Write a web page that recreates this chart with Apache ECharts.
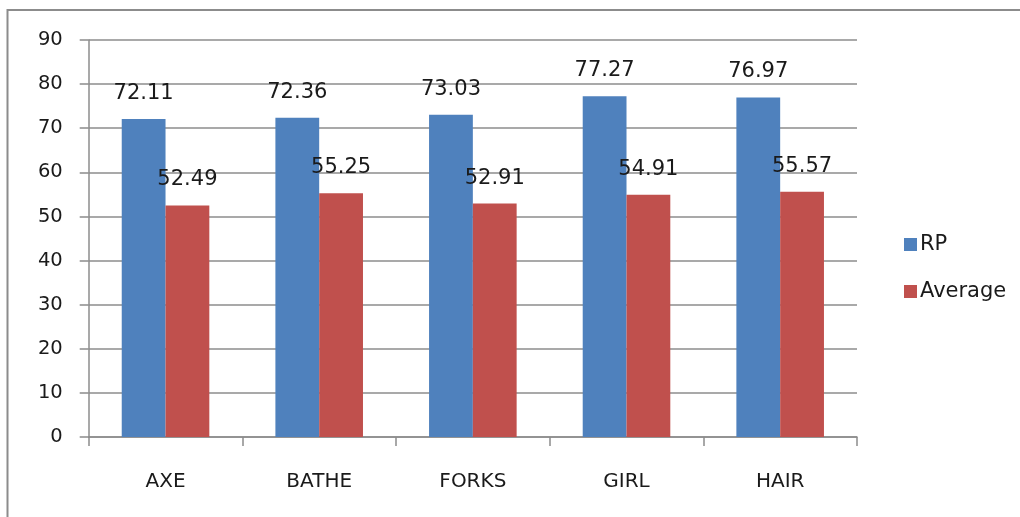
<!DOCTYPE html>
<html>
<head>
<meta charset="utf-8">
<script src="https://cdn.jsdelivr.net/npm/echarts@6/dist/echarts.min.js"></script>
<style>
html,body{margin:0;padding:0;background:#fff;overflow:hidden;}
#chart{width:1020px;height:517px;}
</style>
</head>
<body>
<div id="chart"></div>
<script>
var categories = ['AXE', 'BATHE', 'FORKS', 'GIRL', 'HAIR'];
var rpValues = [72.11, 72.36, 73.03, 77.27, 76.97];
var averageValues = [52.49, 55.25, 52.91, 54.91, 55.57];
var seriesNames = ['RP', 'Average'];
var yMin = 0, yMax = 90, yStep = 10;

var FONT = 'DejaVu Sans';
var chart = echarts.init(document.getElementById('chart'));
chart.setOption({
  animation: false,
  backgroundColor: '#ffffff',
  textStyle: { fontFamily: FONT },
  graphic: [
    { type: 'polyline', shape: { points: [[7.5, 530], [7.5, 10], [1030, 10]] }, style: { stroke: '#8c8c8c', lineWidth: 2, fill: null } }
  ],
  grid: { left: 88.7, right: 163, top: 40, bottom: 80, containLabel: false },
  legend: {
    orient: 'vertical',
    left: 899,
    top: 229,
    itemWidth: 13,
    itemHeight: 13,
    itemGap: 26,
    icon: 'rect',
    textStyle: { fontFamily: FONT, fontSize: 21, color: '#1a1a1a', padding: [0, 0, 0, -2] },
    data: seriesNames
  },
  xAxis: {
    type: 'category',
    data: categories,
    axisLine: { lineStyle: { color: '#8c8c8c', width: 1.5 } },
    axisTick: { show: true, length: 9, alignWithLabel: false, lineStyle: { color: '#8c8c8c', width: 1.5 } },
    axisLabel: { fontFamily: FONT, fontSize: 20, color: '#1a1a1a', margin: 35 }
  },
  yAxis: {
    type: 'value',
    min: yMin,
    max: yMax,
    interval: yStep,
    axisLine: { show: true, lineStyle: { color: '#8c8c8c', width: 1.5 } },
    axisTick: { show: true, length: 9, lineStyle: { color: '#8c8c8c', width: 1.5 } },
    splitLine: { show: true, lineStyle: { color: '#8c8c8c', width: 1.5 } },
    axisLabel: { fontFamily: FONT, fontSize: 19.5, color: '#1a1a1a', margin: 26 }
  },
  series: [
    {
      name: seriesNames[0],
      type: 'bar',
      data: rpValues,
      barGap: '0%',
      barCategoryGap: '43%',
      itemStyle: { color: '#4F81BD' },
      label: { show: true, position: 'top', distance: 15, fontFamily: FONT, fontSize: 21, color: '#1a1a1a' }
    },
    {
      name: seriesNames[1],
      type: 'bar',
      data: averageValues,
      barGap: '0%',
      barCategoryGap: '43%',
      itemStyle: { color: '#C0504D' },
      label: { show: true, position: 'top', distance: 15, fontFamily: FONT, fontSize: 21, color: '#1a1a1a' }
    }
  ]
});
</script>
</body>
</html>
